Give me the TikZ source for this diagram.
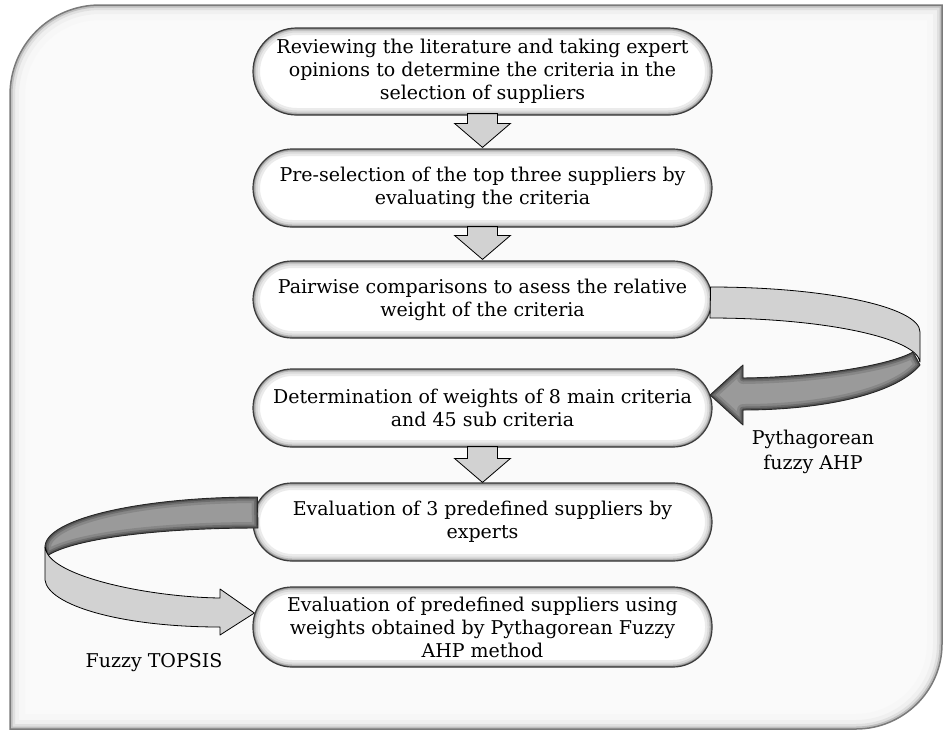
\documentclass[tikz,border=0pt]{standalone}
\usepackage{fontspec}
\setmainfont{DejaVu Serif}
\usetikzlibrary{calc}
\definecolor{framefill}{HTML}{FAFAFA}
\definecolor{frameline}{HTML}{7A7A7A}
\definecolor{arrowgray}{HTML}{D2D2D2}
\definecolor{darkribbon}{HTML}{9A9A9A}
\definecolor{boxline}{HTML}{3C3C3C}
\tikzset{
  stepbox/.style={shape=rectangle, rounded corners=#1, draw=boxline, line width=1.2pt,
    fill=white, minimum width=459pt, align=center, inner sep=0pt,
    font=\fontsize{19pt}{23pt}\selectfont,
    path picture={
      \foreach \w/\c in {14pt/8,9pt/15,5pt/28,2.5pt/45}{
        \draw[line width=\w, black!\c, rounded corners=#1]
          (path picture bounding box.south west) rectangle (path picture bounding box.north east);}
    }},
  stepbox/.default=39pt,
  lbl/.style={font=\fontsize{19pt}{25pt}\selectfont, align=center, inner sep=0pt},
  blockarrowsty/.style={fill=arrowgray, draw=black, line width=0.8pt, line join=miter},
  lightribbon/.style={fill=arrowgray, draw=black, line width=0.8pt, line join=round},
  darkedge/.style={draw=black!85, line width=0.9pt, line join=round}
}
\newcommand{\blockarr}[2]{%
  \path[blockarrowsty] let \p1=(#1), \p2=(#2) in
    (\x1-15pt,\y1) -- (\x1+15pt,\y1) -- (\x1+15pt,\y2+24pt) -- (\x1+28pt,\y2+24pt)
    -- (\x2,\y2) -- (\x1-28pt,\y2+24pt) -- (\x1-15pt,\y2+24pt) -- cycle;}
\newcommand{\darkshape}[1]{%
  \fill[darkribbon] #1;
  \begin{scope}
    \clip #1;
    \draw[line width=12pt, black, opacity=0.12, line join=round] #1;
    \draw[line width=7pt, black, opacity=0.18, line join=round] #1;
    \draw[line width=3.5pt, black, opacity=0.25, line join=round] #1;
  \end{scope}
  \draw[darkedge] #1;}
\begin{document}
\begin{tikzpicture}[x=1pt,y=-1pt]
\useasboundingbox (0,0) rectangle (944,731);
% outer frame
\def\framepath{(10,729) -- (10,95) .. controls (10,45.3) and (49.7,5) .. (100,5) -- (942,5) -- (942,644) .. controls (942,691) and (903,729) .. (856,729) -- cycle}
\fill[framefill] \framepath;
\begin{scope}
  \clip \framepath;
  \draw[line width=30pt, black!3] \framepath;
  \draw[line width=18pt, black!6] \framepath;
  \draw[line width=10pt, black!12] \framepath;
  \draw[line width=5pt, black!25] \framepath;
\end{scope}
\draw[frameline, line width=1.5pt] \framepath;

% boxes
\node[stepbox=43.5pt, minimum height=87pt] (b1) at (482.5,71.5)
  {Reviewing the literature and taking expert\\opinions to determine the criteria in the\\selection of suppliers};
\node[stepbox, minimum height=78pt] (b2) at (482.5,188)
  {Pre-selection of the top three suppliers by\\evaluating the criteria};
\node[stepbox, minimum height=77pt] (b3) at (482.5,299.5)
  {Pairwise comparisons to asess the relative\\weight of the criteria};
\node[stepbox, minimum height=78pt] (b4) at (482.5,408)
  {Determination of weights of 8 main criteria\\and 45 sub criteria};
\node[stepbox, minimum height=78pt] (b5) at (482.5,522)
  {Evaluation of 3 predefined suppliers by\\experts};
\node[stepbox, minimum height=80pt] (b6) at (482.5,627)
  {Evaluation of predefined suppliers using\\weights obtained by Pythagorean Fuzzy\\AHP method};

% straight block arrows
\blockarr{$(b1.south)+(0,-2)$}{$(b2.north)+(0,-1)$}
\blockarr{$(b2.south)+(0,-1)$}{$(b3.north)+(0,-1)$}
\blockarr{$(b4.south)+(0,-1)$}{$(b5.north)+(0,0)$}

% right curved arrow (Pythagorean fuzzy AHP)
\coordinate (ra) at ($(b3.east)+(-2,-12.5)$);
\coordinate (rt) at ($(b4.east)+(-2.5,-13)$);
\path[lightribbon] (ra) .. controls (826,287) and (920,307) .. (920,332) -- (920,362)
   .. controls (917,338) and (824,318) .. (710,318) -- cycle;
\darkshape{(920,365) .. controls (895,395) and (820,410) .. (743,410) -- (743,425)
   -- (rt) -- (743,365) -- (743,378)
   .. controls (820,377) and (890,365) .. (913,352) -- cycle}
\node[lbl] (pf) at (813,452) {Pythagorean\\fuzzy AHP};

% left curved arrow (Fuzzy TOPSIS)
\coordinate (la) at ($(b5.west)+(5,-25)$);
\coordinate (lt) at ($(b6.west)+(2,-14)$);
\darkshape{(la) .. controls (140,497) and (45,519) .. (45,547) -- (47,556)
   .. controls (70,540) and (150,528) .. (258,528) -- cycle}
\path[lightribbon] (45,547) -- (45,580) .. controls (48,605) and (120,627) .. (220,627)
   -- (220,635) -- (lt) -- (220,589) -- (220,598)
   .. controls (150,597) and (60,578) .. (47,553) -- cycle;
\node[lbl] (ft) at (154,663) {Fuzzy TOPSIS};
\end{tikzpicture}
\end{document}
